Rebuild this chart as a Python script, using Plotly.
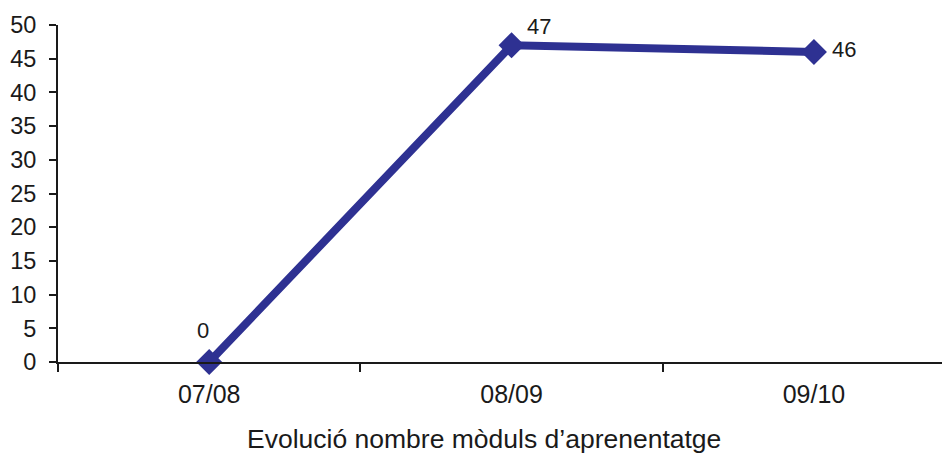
import plotly.graph_objects as go

categories = ["07/08", "08/09", "09/10"]
values = [0, 47, 46]
label_shifts = [(-6, 32), (27, 19), (30, 2)]
y_ticks = [0, 5, 10, 15, 20, 25, 30, 35, 40, 45, 50]
title_text = "Evolució nombre mòduls d’aprenentatge"

color = "#2E3192"
font = "Liberation Sans, Arial, sans-serif"
ink = "#1a1a1a"

fig = go.Figure()
fig.add_trace(go.Scatter(
    x=categories, y=values,
    mode="lines+markers",
    line=dict(color=color, width=8),
    marker=dict(symbol="diamond", size=20, color=color),
    cliponaxis=False,
    showlegend=False,
))

annotations = []
for c, v, (dx, dy) in zip(categories, values, label_shifts):
    annotations.append(dict(
        x=c, y=v, xref="x", yref="y", text=str(v), showarrow=False,
        xshift=dx, yshift=dy, xanchor="center", yanchor="middle",
        font=dict(family=font, size=22, color=ink),
    ))
annotations.append(dict(
    text=title_text, xref="paper", yref="paper",
    x=0.4776, y=0, yshift=-77, yanchor="middle", xanchor="center",
    showarrow=False, font=dict(size=26.5, family=font, color=ink),
))

# page body has an 8px default margin, so the figure is 942x446
fig.update_layout(
    width=942, height=446,
    margin=dict(l=50, r=0, t=17, b=92),
    paper_bgcolor="white", plot_bgcolor="white",
    font=dict(family=font, size=22, color=ink),
    xaxis=dict(
        type="category", range=[-0.5, 2.45], automargin=False,
        showline=True, linecolor=ink, linewidth=2,
        ticks="outside", ticklen=8, tickwidth=2, tickcolor=ink,
        tickson="boundaries", showgrid=False, zeroline=False,
        tickfont=dict(size=25, family=font, color=ink),
        ticklabelstandoff=9,
    ),
    yaxis=dict(
        range=[0, 50], tickvals=y_ticks, automargin=False,
        showline=True, linecolor=ink, linewidth=2,
        ticks="outside", ticklen=7, tickwidth=2, tickcolor=ink,
        showgrid=False, zeroline=False,
        tickfont=dict(size=23.5, family=font, color=ink),
        ticklabelstandoff=8,
    ),
    annotations=annotations,
)

fig.write_html("out.html")
